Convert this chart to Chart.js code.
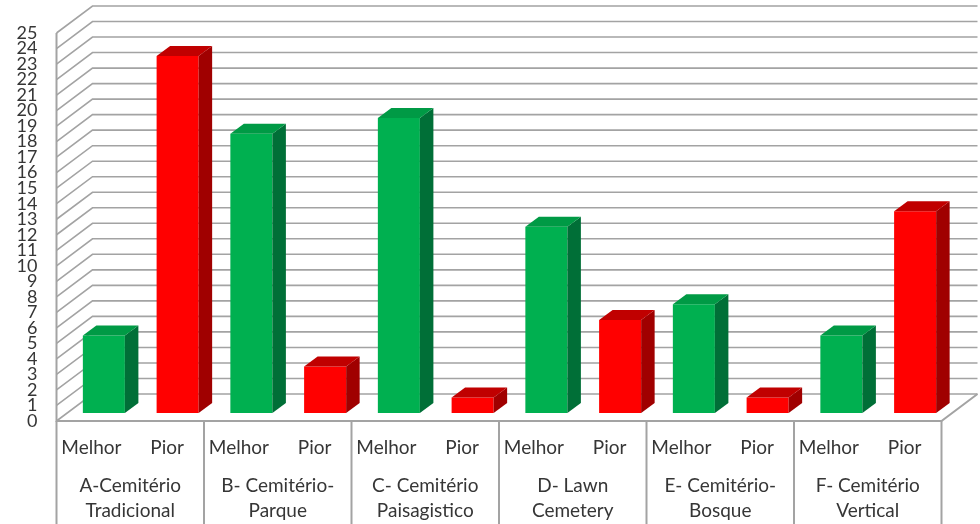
<!DOCTYPE html>
<html><head><meta charset="utf-8">
<style>html,body{margin:0;padding:0;background:#fff}canvas{display:block}</style>
<script src="https://cdn.jsdelivr.net/npm/chart.js@4"></script></head>
<body><canvas id="c" width="980" height="524"></canvas>
<script>
const groups = [['A-Cemitério','Tradicional'],['B- Cemitério-','Parque'],['C- Cemitério','Paisagistico'],['D- Lawn','Cemetery'],['E- Cemitério-','Bosque'],['F- Cemitério','Vertical']];
const melhor = [5,18,19,12,7,5];
const pior = [23,3,1,6,1,13];
const seriesNames = ['Melhor','Pior'];
const FONT='Lato', TXT='#363636', GRID='#a3a3a3';
const WALL={dx:36,dy:27}, BAR={shiftX:10.5,shiftY:-8,dx:13.5,dy:10};
const shades={'#00b050':{side:'#006f37',top:'#009a45'},'#ff0000':{side:'#a00000',top:'#c00000'}};
const threeD={id:'threeD',
 beforeDatasetsDraw(ch){
  const {ctx,chartArea:a,scales:{x,y}}=ch;
  ctx.save();ctx.strokeStyle=GRID;ctx.lineWidth=1.6;
  y.ticks.forEach(t=>{const p=y.getPixelForValue(t.value);
   ctx.beginPath();ctx.moveTo(a.left,p);ctx.lineTo(a.left+WALL.dx,p-WALL.dy);ctx.lineTo(a.right+WALL.dx,p-WALL.dy);ctx.stroke();});
  ctx.lineWidth=2;
  ctx.beginPath();ctx.moveTo(a.left,a.top);ctx.lineTo(a.left,a.bottom);ctx.lineTo(a.right,a.bottom);ctx.lineTo(a.right+WALL.dx,a.bottom-WALL.dy);ctx.stroke();
  for(let i=0;i<=groups.length;i++){const p=a.left+(a.right-a.left)*i/groups.length;
   ctx.beginPath();ctx.moveTo(p,a.bottom);ctx.lineTo(p,524);ctx.stroke();}
  ctx.restore();
  ctx.save();ctx.translate(BAR.shiftX,BAR.shiftY);
 },
 afterDatasetsDraw(ch){
  const {ctx}=ch;
  ch.data.datasets.forEach((d,di)=>{const s=shades[d.backgroundColor];
   ch.getDatasetMeta(di).data.forEach(b=>{
    const l=b.x-b.width/2,r=b.x+b.width/2,t=b.y,bt=b.base;
    ctx.fillStyle=s.side;ctx.beginPath();ctx.moveTo(r,t);ctx.lineTo(r+BAR.dx,t-BAR.dy);ctx.lineTo(r+BAR.dx,bt-BAR.dy);ctx.lineTo(r,bt);ctx.closePath();ctx.fill();
    ctx.fillStyle=s.top;ctx.beginPath();ctx.moveTo(l,t);ctx.lineTo(l+BAR.dx,t-BAR.dy);ctx.lineTo(r+BAR.dx,t-BAR.dy);ctx.lineTo(r,t);ctx.closePath();ctx.fill();
   });});
  ctx.restore();
  ctx.save();ctx.fillStyle=TXT;ctx.font='19px '+FONT;ctx.textAlign='center';ctx.textBaseline='middle';
  ch.data.datasets.forEach((d,di)=>{ch.getDatasetMeta(di).data.forEach(b=>{
    ctx.fillText(d.label,b.x-(di===0?2:0),448);});});
  ctx.restore();
 }};
new Chart(document.getElementById('c'),{type:'bar',
 data:{labels:groups,datasets:[
  {label:seriesNames[0],data:melhor,backgroundColor:'#00b050',clip:false},
  {label:seriesNames[1],data:pior,backgroundColor:'#ff0000',clip:false}]},
 plugins:[threeD],
 options:{responsive:false,animation:false,devicePixelRatio:1,
  layout:{padding:{top:33,right:38.5,left:0,bottom:0}},
  plugins:{legend:{display:false},tooltip:{enabled:false}},
  datasets:{bar:{categoryPercentage:1,barPercentage:0.57}},
  scales:{
   x:{grid:{display:false},border:{display:false},
    afterFit(s){s.height=103;},
    ticks:{autoSkip:false,maxRotation:0,minRotation:0,padding:44,color:TXT,font:{family:FONT,size:19,lineHeight:25/19}}},
   y:{min:0,max:25,grid:{display:false},border:{display:false},
    afterFit(s){s.width=56.5;},
    ticks:{stepSize:1,autoSkip:false,padding:11,color:TXT,font:{family:FONT,size:18}}}
  }}});
</script></body></html>
